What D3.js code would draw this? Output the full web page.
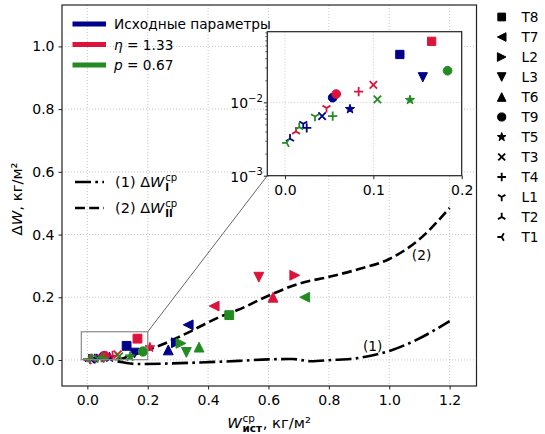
<!DOCTYPE html>
<html><head><meta charset="utf-8">
<script src="https://cdn.jsdelivr.net/npm/d3@7"></script>
<style>body{margin:0;background:#fff} text{font-family:"DejaVu Sans",sans-serif;fill:#000}</style>
</head><body><svg id="c" width="545" height="434"></svg>
<script>
// ---------- data ----------
const markerCodes  = ["T8","T7","L2","L3","T6","T9","T5","T3","T4","L1","T2","T1"];
const markerShapes = ["square","tri-left","tri-right","tri-down","tri-up","circle","star","x","plus","y-down","y-up","y-left"];
const seriesNames  = ["Исходные параметры","η = 1.33","p = 0.67"];
const seriesColors = ["#00008b","#dc143c","#228b22"];
// x = W_ист^ср, y = ΔW, same order as markerCodes
const baseX = [0.130,0.334,0.295,0.156,0.268,0.054,0.0736,0.042,0.0246,0.0207,0.0057,0.003];
const baseY = [0.045,0.112,0.055,0.022,0.032,0.0116,0.0081,0.0065,0.0045,0.0051,0.0032,0.0008];
const etaX  = [0.166,0.420,0.687,0.568,0.615,0.058,0.207,0.100,0.0834,0.047,0.0125,0.004];
const etaY  = [0.068,0.172,0.270,0.264,0.200,0.013,0.040,0.0173,0.014,0.0084,0.0040,0.0007];
const pX    = [0.470,0.720,0.310,0.328,0.370,0.184,0.1415,0.1046,0.054,0.034,0.0162,0.0019];
const pY    = [0.143,0.200,0.053,0.024,0.041,0.027,0.0108,0.011,0.0065,0.0064,0.0046,0.0028];
const curve1X = [0.10,0.17,0.28,0.40,0.50,0.60,0.68,0.74,0.81,0.87,0.95,1.01,1.09,1.20];
const curve1Y = [-0.005,-0.013,-0.011,-0.007,-0.003,0.002,0.003,-0.004,0.0,0.003,0.016,0.032,0.064,0.124];
const curve2X = [0.10,0.15,0.20,0.25,0.30,0.35,0.40,0.45,0.50,0.60,0.70,0.80,0.90,1.00,1.10,1.20];
const curve2Y = [0.000,0.015,0.032,0.050,0.072,0.095,0.120,0.142,0.160,0.205,0.243,0.265,0.290,0.322,0.385,0.485];
const xTicks = [0.0,0.2,0.4,0.6,0.8,1.0,1.2];
const yTicks = [0.0,0.2,0.4,0.6,0.8,1.0];
const insetXTicks = [0.0,0.1,0.2];
const insetYTicks = [1e-3,1e-2];

const series = [[baseX,baseY],[etaX,etaY],[pX,pY]];

// ---------- setup ----------
const svg = d3.select("#c");
const L=62,R=476.5,T=5,B=386;
const x = d3.scaleLinear().domain([-0.084,1.289]).range([L,R]);
const y = d3.scaleLinear().domain([-0.083,1.132]).range([B,T]);
const IL=267.3,IR=461.7,IT=31.7,IB=175.7;
const xi = d3.scaleLinear().domain([-0.02,0.2]).range([IL,IR]);
const yi = d3.scaleLog().domain([0.001,0.092]).range([IB,IT]);
const FS=14, LFS=13.7;

function markerPath(shape,r){
  const p=d3.path();
  switch(shape){
    case "square": p.rect(-r*0.9,-r*0.9,r*1.8,r*1.8); break;
    case "circle": p.arc(0,0,r*0.95,0,2*Math.PI); break;
    case "tri-up": p.moveTo(0,-r);p.lineTo(r,r);p.lineTo(-r,r);p.closePath();break;
    case "tri-down": p.moveTo(0,r);p.lineTo(r,-r);p.lineTo(-r,-r);p.closePath();break;
    case "tri-left": p.moveTo(-r,0);p.lineTo(r,-r);p.lineTo(r,r);p.closePath();break;
    case "tri-right": p.moveTo(r,0);p.lineTo(-r,-r);p.lineTo(-r,r);p.closePath();break;
    case "star": { const ro=r*1.05, ri=ro*0.4;
      for(let i=0;i<10;i++){const a=-Math.PI/2+i*Math.PI/5, rr=i%2?ri:ro;
        const px=rr*Math.cos(a),py=rr*Math.sin(a); i?p.lineTo(px,py):p.moveTo(px,py);} p.closePath(); break;}
    case "plus": p.moveTo(-r,0);p.lineTo(r,0);p.moveTo(0,-r);p.lineTo(0,r);break;
    case "x": p.moveTo(-r*0.8,-r*0.8);p.lineTo(r*0.8,r*0.8);p.moveTo(-r*0.8,r*0.8);p.lineTo(r*0.8,-r*0.8);break;
    case "y-down": { const arms=[[0,1],[-0.866,-0.5],[0.866,-0.5]]; arms.forEach(a=>{p.moveTo(0,0);p.lineTo(a[0]*r,a[1]*r);}); break;}
    case "y-up": { const arms=[[0,-1],[-0.866,0.5],[0.866,0.5]]; arms.forEach(a=>{p.moveTo(0,0);p.lineTo(a[0]*r,a[1]*r);}); break;}
    case "y-left": { const arms=[[-1,0],[0.5,-0.866],[0.5,0.866]]; arms.forEach(a=>{p.moveTo(0,0);p.lineTo(a[0]*r,a[1]*r);}); break;}
  }
  return p.toString();
}
const lineShapes = new Set(["plus","x","y-down","y-up","y-left"]);
function drawMarker(g,shape,cx,cy,color,r){
  const filled=!lineShapes.has(shape);
  g.append("path").attr("d",markerPath(shape,r)).attr("transform",`translate(${cx},${cy})`)
   .attr("fill",filled?color:"none").attr("stroke",color)
   .attr("stroke-width",filled?1:1.8).attr("stroke-linejoin","miter");
}

// ---------- main grid ----------
const grid = svg.append("g");
xTicks.forEach(v=>grid.append("line").attr("x1",x(v)).attr("x2",x(v)).attr("y1",T).attr("y2",B));
yTicks.forEach(v=>grid.append("line").attr("y1",y(v)).attr("y2",y(v)).attr("x1",L).attr("x2",R));
grid.selectAll("line").attr("stroke","#b8b8b8").attr("stroke-width",0.8).attr("stroke-dasharray","1,2");

// ---------- curves ----------
const line = d3.line().x(d=>x(d[0])).y(d=>y(d[1])).curve(d3.curveMonotoneX);
svg.append("path").datum(curve1X.map((v,i)=>[v,curve1Y[i]])).attr("d",line)
  .attr("fill","none").attr("stroke","#000").attr("stroke-width",2.6).attr("stroke-dasharray","16,4.3,2.7,4.3");
svg.append("path").datum(curve2X.map((v,i)=>[v,curve2Y[i]])).attr("d",line)
  .attr("fill","none").attr("stroke","#000").attr("stroke-width",2.6).attr("stroke-dasharray","9.9,4.3");
svg.append("text").attr("x",x(0.945)).attr("y",y(0.046)+5).attr("text-anchor","middle").attr("font-size",LFS).text("(1)");
svg.append("text").attr("x",x(1.107)).attr("y",y(0.335)+5).attr("text-anchor","middle").attr("font-size",LFS).text("(2)");

// ---------- main markers ----------
const mk = svg.append("g");
series.forEach((s,si)=>{
  s[0].forEach((xv,i)=>drawMarker(mk,markerShapes[i],x(xv),y(s[1][i]),seriesColors[si],4.9));
});

// ---------- zoom rect + connector ----------
svg.append("rect").attr("x",x(-0.02)).attr("y",y(0.09)).attr("width",x(0.2)-x(-0.02)).attr("height",y(0.001)-y(0.09))
  .attr("fill","none").attr("stroke","#8a8a8a").attr("stroke-width",1.2);
svg.append("line").attr("x1",x(0.2)).attr("y1",y(0.09)).attr("x2",IL).attr("y2",IB)
  .attr("stroke","#555").attr("stroke-width",0.9);

// ---------- main axes ----------
svg.append("rect").attr("x",L).attr("y",T).attr("width",R-L).attr("height",B-T).attr("fill","none").attr("stroke","#222").attr("stroke-width",1.2);
const ax = svg.append("g").attr("transform",`translate(0,${B})`)
  .call(d3.axisBottom(x).tickValues(xTicks).tickFormat(d3.format(".1f")).tickSize(3.5).tickPadding(4));
const ay = svg.append("g").attr("transform",`translate(${L},0)`)
  .call(d3.axisLeft(y).tickValues(yTicks).tickFormat(d3.format(".1f")).tickSize(3.5).tickPadding(4));
[ax,ay].forEach(a=>{a.select(".domain").remove();a.selectAll("text").attr("font-size",FS).attr("font-family","DejaVu Sans");a.selectAll("line").attr("stroke","#222");});
ax.selectAll("text").attr("dy","0.82em");

// ---------- inset ----------
const ins = svg.append("g");
ins.append("rect").attr("x",IL).attr("y",IT).attr("width",IR-IL).attr("height",IB-IT).attr("fill","#fff");
const ig = ins.append("g");
insetXTicks.forEach(v=>ig.append("line").attr("x1",xi(v)).attr("x2",xi(v)).attr("y1",IT).attr("y2",IB));
insetYTicks.forEach(v=>ig.append("line").attr("y1",yi(v)).attr("y2",yi(v)).attr("x1",IL).attr("x2",IR));
ig.selectAll("line").attr("stroke","#b8b8b8").attr("stroke-width",0.8).attr("stroke-dasharray","1,2");
svg.append("clipPath").attr("id","ic").append("rect").attr("x",IL).attr("y",IT).attr("width",IR-IL).attr("height",IB-IT);
const imk = ins.append("g").attr("clip-path","url(#ic)");
series.forEach((s,si)=>{
  s[0].forEach((xv,i)=>drawMarker(imk,markerShapes[i],xi(xv),yi(s[1][i]),seriesColors[si],4.6));
});
ins.append("rect").attr("x",IL).attr("y",IT).attr("width",IR-IL).attr("height",IB-IT).attr("fill","none").attr("stroke","#222").attr("stroke-width",1.2);
const iax = ins.append("g").attr("transform",`translate(0,${IB})`)
  .call(d3.axisBottom(xi).tickValues(insetXTicks).tickFormat(d3.format(".1f")).tickSize(3.5).tickPadding(4));
iax.select(".domain").remove(); iax.selectAll("text").attr("font-size",FS).attr("dy","0.82em"); iax.selectAll("line").attr("stroke","#222");
const minor=[];[1e-3,1e-2].forEach(d=>{for(let k=2;k<=9;k++){if(d*k<=0.092)minor.push(d*k);}});
const imin = ins.append("g").attr("transform",`translate(${IL},0)`).call(d3.axisLeft(yi).tickValues(minor).tickFormat("").tickSize(2));
imin.select(".domain").remove(); imin.selectAll("line").attr("stroke","#222").attr("stroke-width",0.7);
const iay = ins.append("g").attr("transform",`translate(${IL},0)`).call(d3.axisLeft(yi).tickValues(insetYTicks).tickFormat("").tickSize(3.5));
iay.select(".domain").remove(); iay.selectAll("line").attr("stroke","#222");
iay.selectAll(".tick").each(function(d){
  const t=d3.select(this).append("text").attr("x",-4.5).attr("y",5.5).attr("text-anchor","end").attr("font-size",FS).attr("fill","#000");
  t.append("tspan").text("10");
  t.append("tspan").attr("dy",-6.5).attr("font-size",10).text("−"+Math.round(-Math.log10(d)));
});

// ---------- math text helper ----------
function mathText(parent,xPos,yPos,base,sup,sub,tail,fs,anchor,rotate){
  const g=parent.append("g");
  const t=g.append("text").attr("x",0).attr("y",0).attr("font-size",fs);
  base.forEach(b=>{const s=t.append("tspan").text(b[0]); if(b[1])s.attr("font-style","italic");});
  const w1=t.node().getComputedTextLength();
  let w2=0;
  if(sup){const s=g.append("text").attr("x",w1+0.8).attr("y",-fs*0.42).attr("font-size",fs*0.7).text(sup); w2=Math.max(w2,s.node().getComputedTextLength());}
  if(sub){const s=g.append("text").attr("x",w1+0.8).attr("y",fs*0.3).attr("font-size",fs*0.7).attr("font-weight","bold").text(sub); w2=Math.max(w2,s.node().getComputedTextLength());}
  let w=w1+(w2?w2+1.5:0);
  if(tail){const s=g.append("text").attr("x",w).attr("y",0).attr("font-size",fs).text(tail); w+=s.node().getComputedTextLength();}
  const off = anchor==="middle"?-w/2:0;
  g.attr("transform",`translate(${xPos},${yPos})${rotate?` rotate(${rotate})`:""} translate(${off},0)`);
  return g;
}

// axis labels
mathText(svg,269,428,[["W",true]],"ср","ист",", кг/м²",14.8,"middle");
mathText(svg,22,199,[["Δ",false],["W",true],[", кг/м²",false]],null,null,null,14.8,"middle",-90);

// ---------- legends ----------
const lg = svg.append("g");
const legY=[24,44.5,65];
seriesNames.forEach((n,i)=>{
  lg.append("line").attr("x1",72.5).attr("x2",106).attr("y1",legY[i]).attr("y2",legY[i]).attr("stroke",seriesColors[i]).attr("stroke-width",5);
  const t=lg.append("text").attr("x",114).attr("y",legY[i]+5).attr("font-size",LFS);
  if(i===0) t.text(n);
  else { const parts=n.split(" "); t.append("tspan").attr("font-style","italic").text(parts[0]); t.append("tspan").text(" "+parts.slice(1).join(" ")); }
});
const lineLeg=[{y:182,dash:"16,4.3,2.7,4.3",lab:"(1) ",sub:"I"},{y:208,dash:"9.9,4.3",lab:"(2) ",sub:"II"}];
lineLeg.forEach(d=>{
  lg.append("line").attr("x1",75).attr("x2",104).attr("y1",d.y).attr("y2",d.y).attr("stroke","#000").attr("stroke-width",2.6).attr("stroke-dasharray",d.dash);
  mathText(lg,115,d.y+5,[[d.lab+"Δ",false],["W",true]],"ср",d.sub,null,14.5,"start");
});
// marker legend
markerCodes.forEach((c,i)=>{
  const yy=17+20*i;
  drawMarker(lg,markerShapes[i],501.7,yy,"#000",4.3);
  lg.append("text").attr("x",521.5).attr("y",yy+5).attr("font-size",LFS).text(c);
});
</script></body></html>
